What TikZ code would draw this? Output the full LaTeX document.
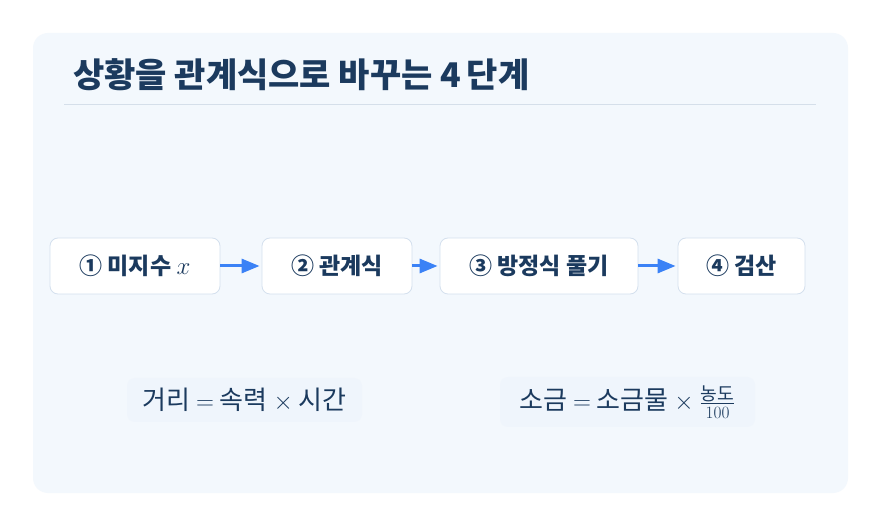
\documentclass[tikz,border=0pt]{standalone}
\usepackage{amsmath}
\usepackage{fontspec}
\setmainfont{Noto Sans CJK KR}
\usetikzlibrary{arrows.meta, positioning, calc}

\definecolor{panelbg}{HTML}{F3F8FD}
\definecolor{formbg}{HTML}{EFF5FC}
\definecolor{navy}{HTML}{1B3A5E}
\definecolor{rulegray}{HTML}{D5DFEA}
\definecolor{boxline}{HTML}{D4E0EE}
\definecolor{flowblue}{HTML}{3B82F6}

\begin{document}
\begin{tikzpicture}[x=1pt, y=-1pt,
            % Define node styles
            stepbox/.style={rectangle, draw=boxline, line width=0.8pt, fill=white, rounded corners=8pt, minimum height=56pt, font=\fontsize{23}{26}\selectfont\bfseries, text=navy},
            formbox/.style={rectangle, fill=formbg, rounded corners=8pt, minimum height=44pt, font=\fontsize{26}{30}\selectfont, text=navy},
            arrow/.style={line width=3pt, draw=flowblue, -{Triangle[length=18pt, width=14pt]}, shorten >=2pt}
        ]

        % Canvas and panel
        \fill[white] (0,0) rectangle (881,526);
        \useasboundingbox (0,0) rectangle (881,526);
        \fill[panelbg, rounded corners=15pt] (33,33) rectangle (848,493);

        % Title
        \node[anchor=west, inner sep=0pt, text=navy, font=\fontsize{34}{38}\selectfont\bfseries] (title) at (73,75) {상황을 관계식으로 바꾸는 4\,단계};
        \coordinate (rule_left) at (64,105);
        \coordinate (rule_right) at (816,105);
        \draw[rulegray, line width=1pt] (rule_left) -- (rule_right);

        % Steps
        \node[stepbox, minimum width=170pt] (s1) at (135,266) {① 미지수 $x$};
        \node[stepbox, minimum width=150pt] (s2) at (337,266) {② 관계식};
        \node[stepbox, minimum width=198pt] (s3) at (539,266) {③ 방정식 풀기};
        \node[stepbox, minimum width=127pt] (s4) at (741.5,266) {④ 검산};

        % Connect steps
        \draw[arrow] (s1) -- (s2);
        \draw[arrow] (s2) -- (s3);
        \draw[arrow] (s3) -- (s4);

        % Formulas
        \node[formbox, minimum width=235pt] (speed) at (244.5,400) {거리 $=$ 속력 $\times$ 시간};
        \node[formbox, minimum width=255pt, minimum height=50pt] (salt) at (627.5,402) {소금 $=$ 소금물 $\times$ $\frac{\text{농도}}{100}$};

        \end{tikzpicture}
\end{document}
